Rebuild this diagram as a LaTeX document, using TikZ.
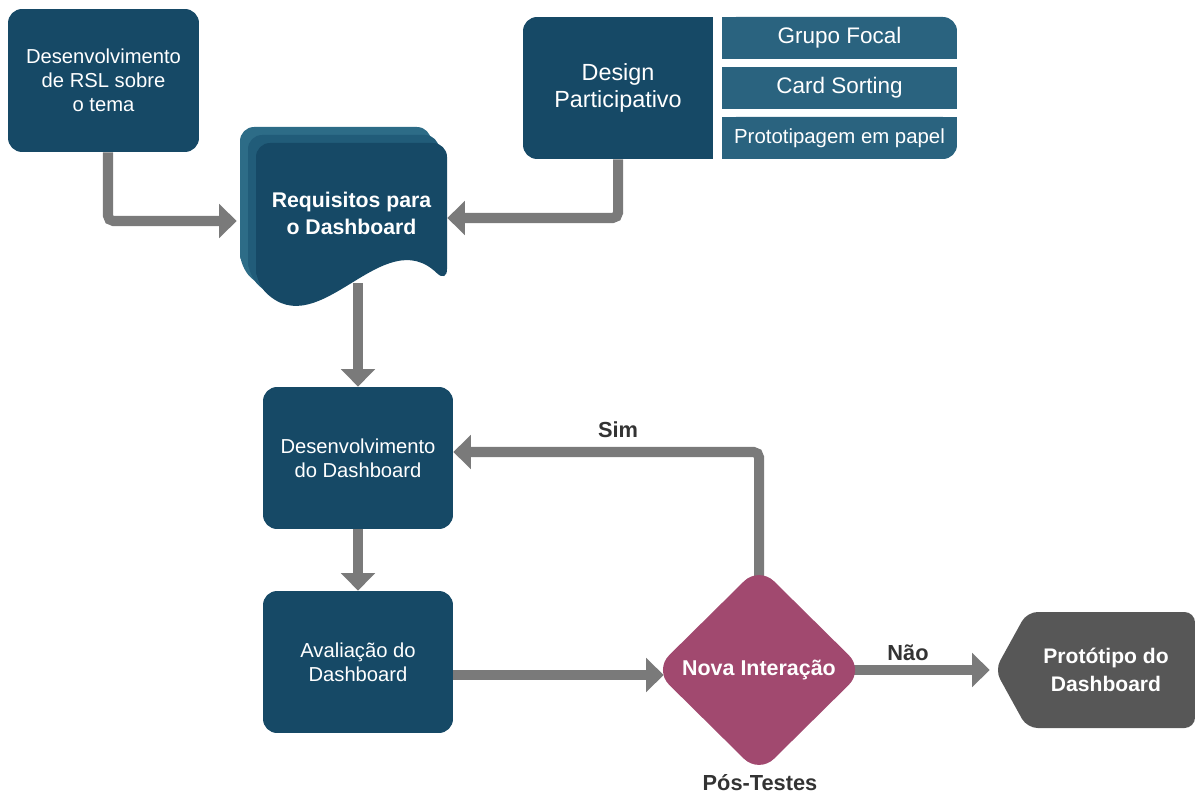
\documentclass[tikz,border=0pt]{standalone}
\usepackage{fontspec}
\setmainfont{Liberation Sans}
\usepackage{xcolor}
\usepackage{tikz}
\usetikzlibrary{arrows.meta,shapes.geometric,backgrounds}

\definecolor{boxblue}{HTML}{164966}
\definecolor{listblue}{HTML}{2A637F}
\definecolor{docback}{HTML}{2D6C87}
\definecolor{docmid}{HTML}{215C79}
\definecolor{flowgray}{HTML}{7A7A7A}
\definecolor{decide}{HTML}{A1496F}
\definecolor{protogray}{HTML}{575757}
\definecolor{lblgray}{HTML}{333333}

\tikzset{
    bluebox/.style={fill=boxblue, text=white, rounded corners=8pt, inner sep=0pt,
        minimum width=3.8cm, minimum height=2.84cm, align=center,
        font=\fontsize{11.5}{13.8}\selectfont},
    listbox/.style={fill=listblue, text=white, rounded corners=8pt, inner sep=0pt,
        minimum width=4.7cm, minimum height=0.84cm, font=\fontsize{12.8}{15}\selectfont},
    flow/.style={draw=flowgray, line width=5.7pt, rounded corners=3pt,
        -{Triangle[width=19pt,length=10pt]}},
    steplbl/.style={text=lblgray, font=\bfseries\fontsize{12.4}{15}\selectfont},
}

\begin{document}
\begin{tikzpicture}[x=0.02cm, y=-0.02cm]
    \useasboundingbox (0,0) rectangle (1195,793);

    \node[bluebox, minimum width=3.82cm, minimum height=2.86cm] (rsl) at (103.5,80.5) {Desenvolvimento\\de RSL sobre\\o tema};
    \node[bluebox, font=\fontsize{13.3}{15.3}\selectfont] (design) at (618,88) {Design\\Participativo};
    \node[listbox] (grupo) at (839.5,38) {Grupo Focal};
    \node[listbox, sharp corners] (card) at (839.5,88) {Card Sorting};
    \node[listbox, font=\fontsize{11.6}{13}\selectfont] (papel) at (839.5,138) {Prototipagem em papel};

    \foreach \d/\c in {0/docback, 8/docmid, 16/boxblue}
        \fill[\c, rounded corners=8pt] (240+\d,267+\d) -- (240+\d,127+\d) -- (431+\d,127+\d) -- (431+\d,267+\d)
            .. controls (367.3+\d,205+\d) and (303.7+\d,329+\d) .. (240+\d,267+\d) -- cycle;
    \node[text=white, font=\bfseries\fontsize{12.1}{15.3}\selectfont, align=center, inner sep=0pt,
        minimum width=3.82cm, minimum height=2.8cm] (req) at (351.5,213) {Requisitos para\\o Dashboard};

    \node[bluebox] (dev) at (358,458) {Desenvolvimento\\do Dashboard};
    \node[bluebox] (aval) at (358,662) {Avaliação do\\Dashboard};

    \node[diamond, fill=decide, text=white, rounded corners=12pt, inner sep=0pt,
        minimum width=4.2cm, minimum height=4.15cm,
        font=\bfseries\fontsize{12.2}{15}\selectfont] (nova) at (759,670) {Nova Interação};

    \fill[protogray, rounded corners=6pt] (995,670) -- (1027,612) -- (1195,612) -- (1195,728) -- (1027,728) -- cycle;
    \node[text=white, font=\bfseries\fontsize{12}{15.9}\selectfont, align=center, inner sep=0pt,
        minimum width=3.36cm, minimum height=2.32cm] (proto) at (1106,670) {Protótipo do\\Dashboard};

    \node[steplbl] (sim) at (618,430) {Sim};
    \node[steplbl] (nao) at (908,653) {Não};
    \node[steplbl] (pos) at (760,783) {Pós-Testes};

    \begin{scope}[on background layer]
        \fill[boxblue] (design.north) rectangle (design.south east);
        \fill[listblue] (grupo.north west) rectangle (grupo.south);
        \fill[listblue] (grupo.west) rectangle (grupo.south east);
        \fill[listblue] (papel.north west) rectangle (papel.south);
        \fill[listblue] (papel.north west) rectangle (papel.east);

        \draw[flow] ([xshift=0.09cm]rsl.south) |- ([xshift=-0.38cm,yshift=-0.16cm]req.west);
        \draw[flow] (design.south) |- ([yshift=-0.1cm]req.east);
        \draw[flow] (req.south -| dev.north) -- (dev.north);
        \draw[flow] (dev.south) -- (aval.north);
        \draw[flow] ([yshift=-0.1cm]aval.east |- nova.west) -- ([xshift=0.2cm,yshift=-0.1cm]nova.west);
        \draw[flow] ([yshift=-0.3cm]nova.north) |- ([yshift=0.12cm]dev.east);
        \draw[flow] ([xshift=-0.3cm]nova.east) -- ([xshift=-0.64cm]proto.west);
    \end{scope}
\end{tikzpicture}
\end{document}
